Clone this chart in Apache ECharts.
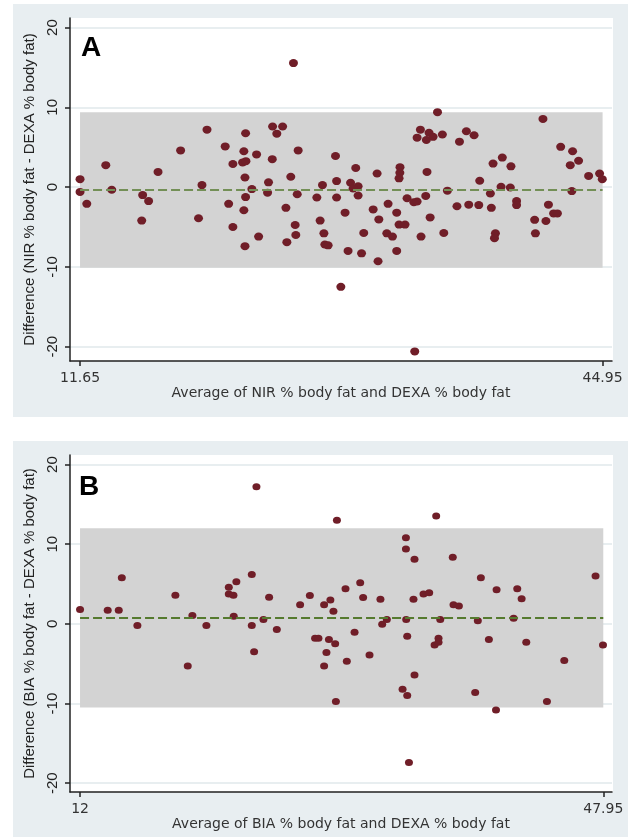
<!DOCTYPE html>
<html>
<head>
<meta charset="utf-8">
<script src="https://cdn.jsdelivr.net/npm/echarts@6/dist/echarts.min.js"></script>
<style>
  html, body { margin: 0; padding: 0; background: #fff; }
  #main { width: 631px; height: 838px; }
</style>
</head>
<body>
<div id="main"></div>
<script>
// panel A: NIR vs DEXA
var avgA = [11.65,11.65,12.08,13.29,13.67,15.58,15.64,16.02,16.62,18.06,19.2,19.42,19.74,20.9,21.12,21.39,21.39,22.2,22.09,22.01,
  22.22,22.16,22.6,22.2,22.09,22.16,23.03,22.9,23.66,23.6,23.92,24.56,24.19,23.9,24.77,25.08,25.55,25.49,25.36,25.4,
  24.83,27.1,26.74,26.95,27.19,27.25,27.46,27.93,28.0,28.0,28.54,28.73,29.59,29.22,28.89,29.37,29.05,29.37,29.73,30.33,
  30.69,30.58,30.64,31.28,31.2,31.56,31.83,31.83,31.98,32.36,32.04,32.03,31.98,32.49,32.92,33.13,33.38,33.68,33.96,33.76,
  33.34,33.13,33.72,33.89,34.15,34.74,34.43,34.83,35.06,35.67,35.83,36.27,36.76,36.42,37.06,37.12,37.8,37.86,37.97,38.56,
  39.11,38.48,39.07,38.12,38.06,39.47,39.47,40.62,40.67,41.34,41.5,41.83,42.07,41.15,42.28,43.04,42.89,43.42,42.99,44.06,
  44.76,44.93,25.25,28.27,32.98];
var diffA = [1.0,-0.6,-2.1,2.75,-0.33,-4.2,-1.0,-1.75,1.9,4.6,-3.9,0.25,7.2,5.1,-2.1,2.9,-5.0,6.75,4.5,3.1,
  3.25,1.2,-0.25,-1.25,-2.9,-7.4,-6.2,4.1,0.6,-0.7,7.6,7.6,6.7,3.5,-2.6,1.3,4.6,-0.9,-4.75,-6.0,
  -6.9,0.25,-1.3,-4.2,-5.8,-7.2,-7.3,3.9,0.75,-1.3,-3.2,-8.0,-8.3,2.4,0.55,0.1,-0.17,-1.05,-5.75,-2.8,
  -4.05,1.7,-9.3,-2.1,-5.8,-6.2,-3.2,-8.0,-4.7,-4.7,2.5,1.8,1.1,-1.4,-1.9,-1.8,-6.2,-1.1,-3.8,1.9,
  7.2,6.2,5.9,6.8,6.3,6.6,9.4,-5.75,-0.45,-2.4,5.7,7.0,6.5,-2.2,-2.25,0.8,-0.8,-2.6,2.95,3.7,
  2.6,0.05,-0.05,-5.8,-6.4,-1.75,-2.25,-4.1,-5.8,-4.25,-2.2,-3.3,-3.3,8.55,5.05,4.5,2.75,3.3,-0.5,1.4,
  1.7,1.0,15.55,-12.5,-20.6];
var xTicksA = [11.65, 44.95];
var limitsA = [-10.1, -0.35, 9.4]; // lower, mean, upper

// panel B: BIA vs DEXA
var avgB = [12.0,13.9,14.66,14.87,15.94,18.55,19.4,19.72,20.68,22.22,22.74,22.22,22.54,22.56,23.8,23.8,23.96,24.6,24.99,25.52,
  27.12,27.79,28.77,29.2,29.41,28.15,28.38,29.1,29.53,28.93,28.77,29.58,29.65,24.12,30.24,31.25,31.45,30.86,30.33,31.89,
  32.64,32.76,33.08,34.39,34.39,34.98,34.91,35.6,35.99,34.41,34.48,34.98,34.16,34.48,36.75,36.63,36.36,36.63,37.61,37.66,
  38.03,39.33,39.54,40.09,39.15,40.58,40.62,41.79,42.04,42.34,42.66,44.08,45.27,47.42,47.93,34.6,36.47];
var diffB = [1.8,1.7,1.7,5.8,-0.2,3.6,-5.3,1.05,-0.2,4.6,5.3,3.75,3.6,0.95,6.2,-0.2,-3.5,0.55,3.35,-0.7,
  2.4,3.55,2.4,3.0,1.6,-1.8,-1.8,-1.95,-2.5,-3.6,-5.3,-9.75,13.0,17.2,4.4,5.15,3.3,-1.05,-4.7,-3.9,
  3.1,-0.05,0.55,10.8,9.4,8.1,3.1,3.75,3.9,0.55,-1.55,-6.4,-8.2,-9.0,0.55,-1.8,-2.65,-2.3,8.35,2.4,
  2.25,0.4,5.8,-1.95,-8.6,-10.8,4.3,0.7,4.4,3.15,-2.3,-9.75,-4.6,6.0,-2.65,-17.4,13.55];
var xTicksB = [12, 47.95];
var limitsB = [-10.5, 0.75, 12.0];

var yTicks = [-20, -10, 0, 10, 20];

function zip(xs, ys) { return xs.map(function (x, i) { return [x, ys[i]]; }); }

var bg = '#e8eef1', dotColor = '#701e28';
var axisFont = 'Liberation Sans, Arial, sans-serif';
var xFont = 'DejaVu Sans, Verdana, sans-serif';

function xAxisFor(idx, ticks, min, max, name) {
  return {
    type: 'value', gridIndex: idx, min: min, max: max,
    name: name, nameLocation: 'middle', nameGap: 24,
    nameTextStyle: { fontFamily: xFont, fontSize: 14, color: '#333' },
    axisLine: { onZero: false, lineStyle: { color: '#222', width: 1.5 } },
    axisTick: { customValues: ticks, length: 5, lineStyle: { color: '#222', width: 1.5 } },
    axisLabel: { customValues: ticks, fontFamily: xFont, fontSize: 14, color: '#333', margin: 10 },
    splitLine: { show: false }
  };
}
function yAxisFor(idx, min, max, name) {
  return {
    type: 'value', gridIndex: idx, min: min, max: max,
    name: name, nameLocation: 'middle', nameGap: 31, nameRotate: 90,
    nameTextStyle: { fontFamily: axisFont, fontSize: 15, color: '#222' },
    axisLine: { show: true, onZero: false, lineStyle: { color: '#222', width: 1.5 } },
    axisTick: { show: true, customValues: yTicks, length: 5, lineStyle: { color: '#222', width: 1.5 } },
    axisLabel: { customValues: yTicks, rotate: 90, fontFamily: axisFont, fontSize: 15, color: '#222', margin: 10 },
    splitLine: { show: true, lineStyle: { color: '#e0e8eb', width: 1.5 } }
  };
}
function series(idx, pts, ticks, lim, dashColor, size) {
  return {
    type: 'scatter', xAxisIndex: idx, yAxisIndex: idx,
    data: pts, symbolSize: size,
    itemStyle: { color: dotColor, opacity: 1 },
    markArea: {
      silent: true,
      itemStyle: { color: '#d3d3d3', opacity: 1 },
      data: [[{ coord: [ticks[0], lim[2]] }, { coord: [ticks[1], lim[0]] }]]
    },
    markLine: {
      silent: true, symbol: 'none', label: { show: false },
      lineStyle: { color: dashColor, type: [9, 4], width: 2 },
      data: [[{ coord: [ticks[0], lim[1]] }, { coord: [ticks[1], lim[1]] }]]
    }
  };
}

var myChart = echarts.init(document.getElementById('main'), null, { renderer: 'canvas' });
var option = {
  animation: false,
  backgroundColor: '#fff',
  graphic: [
    { type: 'rect', z: -10, shape: { x: 13, y: 4, width: 615, height: 413 }, style: { fill: bg } },
    { type: 'rect', z: -9, shape: { x: 70, y: 18, width: 543, height: 343 }, style: { fill: '#fff' } },
    { type: 'rect', z: -10, shape: { x: 13, y: 441, width: 615, height: 396 }, style: { fill: bg } },
    { type: 'rect', z: -9, shape: { x: 70, y: 455, width: 543, height: 337 }, style: { fill: '#fff' } },
    { type: 'text', x: 81, y: 34, style: { text: 'A', font: 'bold 28px Liberation Sans, Arial, sans-serif', fill: '#000' } },
    { type: 'text', x: 79, y: 473, style: { text: 'B', font: 'bold 28px Liberation Sans, Arial, sans-serif', fill: '#000' } }
  ],
  grid: [
    { left: 70, top: 18, width: 542, height: 343 },
    { left: 70, top: 455, width: 542, height: 337 }
  ],
  xAxis: [
    xAxisFor(0, xTicksA, 11.01, 45.55, 'Average of NIR % body fat and DEXA % body fat'),
    xAxisFor(1, xTicksB, 11.31, 48.55, 'Average of BIA % body fat and DEXA % body fat')
  ],
  yAxis: [
    yAxisFor(0, -21.8, 21.2, 'Difference (NIR % body fat - DEXA % body fat)'),
    yAxisFor(1, -21.1, 21.2, 'Difference (BIA % body fat - DEXA % body fat)')
  ],
  series: [
    series(0, zip(avgA, diffA), xTicksA, limitsA, '#738f56', [9, 8]),
    series(1, zip(avgB, diffB), xTicksB, limitsB, '#557a2e', [8, 7])
  ]
};
myChart.setOption(option);
</script>
</body>
</html>
